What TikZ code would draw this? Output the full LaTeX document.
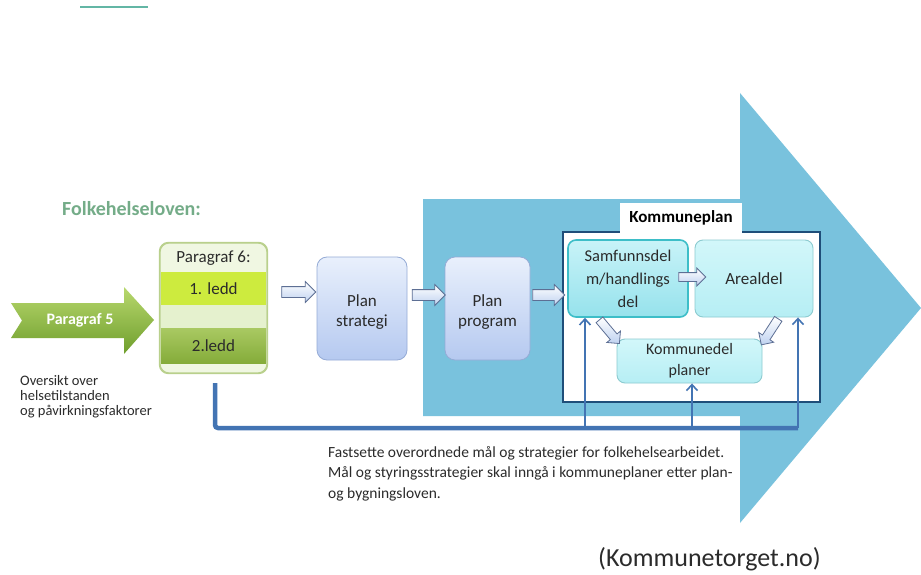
\documentclass[tikz,border=0pt]{standalone}
\usepackage{fontspec}
\setmainfont{Carlito}
\usetikzlibrary{shapes.arrows,arrows.meta,calc}
\definecolor{shaftblue}{HTML}{79C2DD}
\definecolor{navy}{HTML}{1F4E79}
\definecolor{fbline}{HTML}{4374B3}
\definecolor{planTop}{HTML}{E9F0FC}
\definecolor{planBot}{HTML}{B5C9F0}
\definecolor{planBorder}{HTML}{95ABD6}
\definecolor{cyanTop}{HTML}{D2F7FA}
\definecolor{cyanBot}{HTML}{B6EEF4}
\definecolor{cyanBorder}{HTML}{8CCBD0}
\definecolor{samfTop}{HTML}{C8F3F8}
\definecolor{samfBot}{HTML}{96E2EC}
\definecolor{samfBorder}{HTML}{3DBEC8}
\definecolor{txt}{HTML}{2B2B2B}
\definecolor{folkgreen}{HTML}{74AC88}
\definecolor{limeband}{HTML}{CDEB3E}
\definecolor{paleband}{HTML}{E5F1CE}
\definecolor{p6fill}{HTML}{F0F7E2}
\definecolor{p6border}{HTML}{B9D08C}
\definecolor{darkTop}{HTML}{A9C962}
\definecolor{darkBot}{HTML}{85AC3A}
\definecolor{arrTop}{HTML}{B8D86E}
\definecolor{arrBot}{HTML}{6F9E2C}
\definecolor{barrFill}{HTML}{BFD2F0}
\definecolor{barrDraw}{HTML}{5D6F94}
\definecolor{topline}{HTML}{63B6A5}
\tikzset{
  planbox/.style={draw=planBorder, line width=0.8pt, rounded corners=10pt,
    top color=planTop, bottom color=planBot, text=txt, align=center,
    font=\fontsize{17}{20}\selectfont, inner sep=0pt},
  cyanbox/.style={draw=cyanBorder, line width=0.9pt, rounded corners=8pt,
    top color=cyanTop, bottom color=cyanBot, text=txt, align=center,
    font=\fontsize{16.5}{23}\selectfont, inner sep=0pt},
  samfbox/.style={cyanbox, draw=samfBorder, line width=1.6pt,
    top color=samfTop, bottom color=samfBot},
  barrow/.style={shape=single arrow, draw=barrDraw, line width=0.8pt,
    top color=white, bottom color=barrFill, inner xsep=0pt, inner ysep=5pt,
    single arrow head extend=5pt, single arrow head indent=0pt},
  sbarrow/.style={barrow, inner ysep=4pt, single arrow head extend=4.5pt},
  band/.style={inner sep=0pt, text=txt, font=\fontsize{17}{20}\selectfont},
  fbthick/.style={draw=fbline, line width=4.5pt},
  fbthin/.style={draw=fbline, line width=2.2pt, -{Straight Barb[length=6pt,width=11pt,line width=1.6pt]}},
  plaintext/.style={text=txt, align=left, inner sep=0pt}
}
\begin{document}
\begin{tikzpicture}[x=1pt,y=-1pt]
\useasboundingbox (0,0) rectangle (921,575);
\fill[white] (0,0) rectangle (921,575);
% top small line
\coordinate (tl1) at (80,7);
\coordinate (tl2) at (148,7);
\draw[topline, line width=2.5pt] (tl1) -- (tl2);
% big arrow
\fill[shaftblue] (423,199) -- (740,199) -- (740,93) -- (921,308) -- (740,523) -- (740,416) -- (423,416) -- cycle;
% Kommuneplan frame
\node[draw=navy, line width=2pt, fill=white, minimum width=257, minimum height=170, inner sep=0pt] (frame) at (691.5,317) {};
\node[fill=white, minimum width=122, minimum height=30, inner sep=0pt, font=\bfseries\fontsize{17}{19}\selectfont, text=black] (tab) at (681,218) {Kommuneplan};
% boxes
\node[planbox, minimum width=90, minimum height=103] (ps) at (362,308.5) {};
\node[text=txt, align=center, font=\fontsize{17}{20}\selectfont, inner sep=0pt] (pst) at (362,312) {Plan\\strategi};
\node[planbox, minimum width=85, minimum height=103] (pp) at (487.5,308.5) {};
\node[text=txt, align=center, font=\fontsize{17}{20}\selectfont, inner sep=0pt] (ppt) at (487.5,312) {Plan\\program};
\node[samfbox, minimum width=120, minimum height=77] (samf) at (628,278.5) {Samfunnsdel\\m/handlings\\del};
\node[cyanbox, minimum width=118, minimum height=77, font=\fontsize{17}{20}\selectfont] (areal) at (754,278.5) {Arealdel};
\node[cyanbox, minimum width=145, minimum height=44, font=\fontsize{16}{21}\selectfont] (kdp) at (689.5,361) {Kommunedel\\planer};
% Paragraf 6
\node[draw=p6border, line width=1.2pt, fill=p6fill, rounded corners=9pt, minimum width=107, minimum height=130, inner sep=0pt] (p6) at (213.5,308) {};
\node[band, fill=limeband, minimum width=105, minimum height=33] (l1) at (213.5,288.5) {1. ledd};
\node[band, fill=paleband, minimum width=105, minimum height=23] (lm) at (213.5,316.5) {};
\node[band, top color=darkTop, bottom color=darkBot, minimum width=105, minimum height=35] (l2) at (213.5,345.5) {2.ledd};
\node[band] (p6t) at (213.5,258) {Paragraf 6:};
\draw[p6border, line width=1.2pt, rounded corners=9pt] (p6.north west) rectangle (p6.south east);
% Paragraf 5 arrow
\shade[top color=arrTop, bottom color=arrBot] (11,303) -- (124,303) -- (124,287) -- (154,320) -- (124,354) -- (124,338) -- (11,338) -- (22,320.5) -- cycle;
\node[text=white, font=\bfseries\fontsize{16}{18}\selectfont, inner sep=0pt] (p5) at (80,320.5) {Paragraf 5};
% block arrows
\node[barrow, minimum height=34] (a1) at (296,292) {};
\node[barrow, minimum height=33] (a2) at (426,295) {};
\node[barrow, minimum height=32] (a3) at (546,295) {};
\node[sbarrow, minimum height=27] (a4) at (690,277) {};
\node[sbarrow, minimum height=31, rotate=-50] (a5) at (608,330) {};
\node[sbarrow, minimum height=31, rotate=-123] (a6) at (771,330) {};
% feedback lines
\coordinate (fb0) at (215,383);
\coordinate (fbc) at (215,428);
\coordinate (fb1) at (585,428);
\coordinate (fb2) at (692,428);
\coordinate (fb3) at (798,428);
\draw[fbthin] (fb1) -- (fb1 |- samf.south);
\draw[fbthin] (fb2) -- (fb2 |- kdp.south);
\draw[fbthin] (fb3) -- (fb3 |- areal.south);
\draw[fbthick, rounded corners=3pt] (fb0) -- (fbc) -- (fb3);
% texts
\node[text=folkgreen, font=\bfseries\fontsize{20}{24}\selectfont, inner sep=0pt, anchor=west] (folk) at (62,209) {Folkehelseloven:};
\node[plaintext, anchor=north west, font=\fontsize{14.5}{15}\selectfont] (overs) at (20,375) {Oversikt over\\helsetilstanden\\og påvirkningsfaktorer};
\node[plaintext, anchor=north west, font=\fontsize{15.5}{20.5}\selectfont] (fast) at (328,446) {Fastsette overordnede mål og strategier for folkehelsearbeidet.\\Mål og styringsstrategier skal inngå i kommuneplaner etter plan-\\og bygningsloven.};
\node[text=txt, font=\fontsize{26}{30}\selectfont, inner sep=0pt, anchor=base west] (src) at (598,566) {(Kommunetorget.no)};
\end{tikzpicture}
\end{document}
